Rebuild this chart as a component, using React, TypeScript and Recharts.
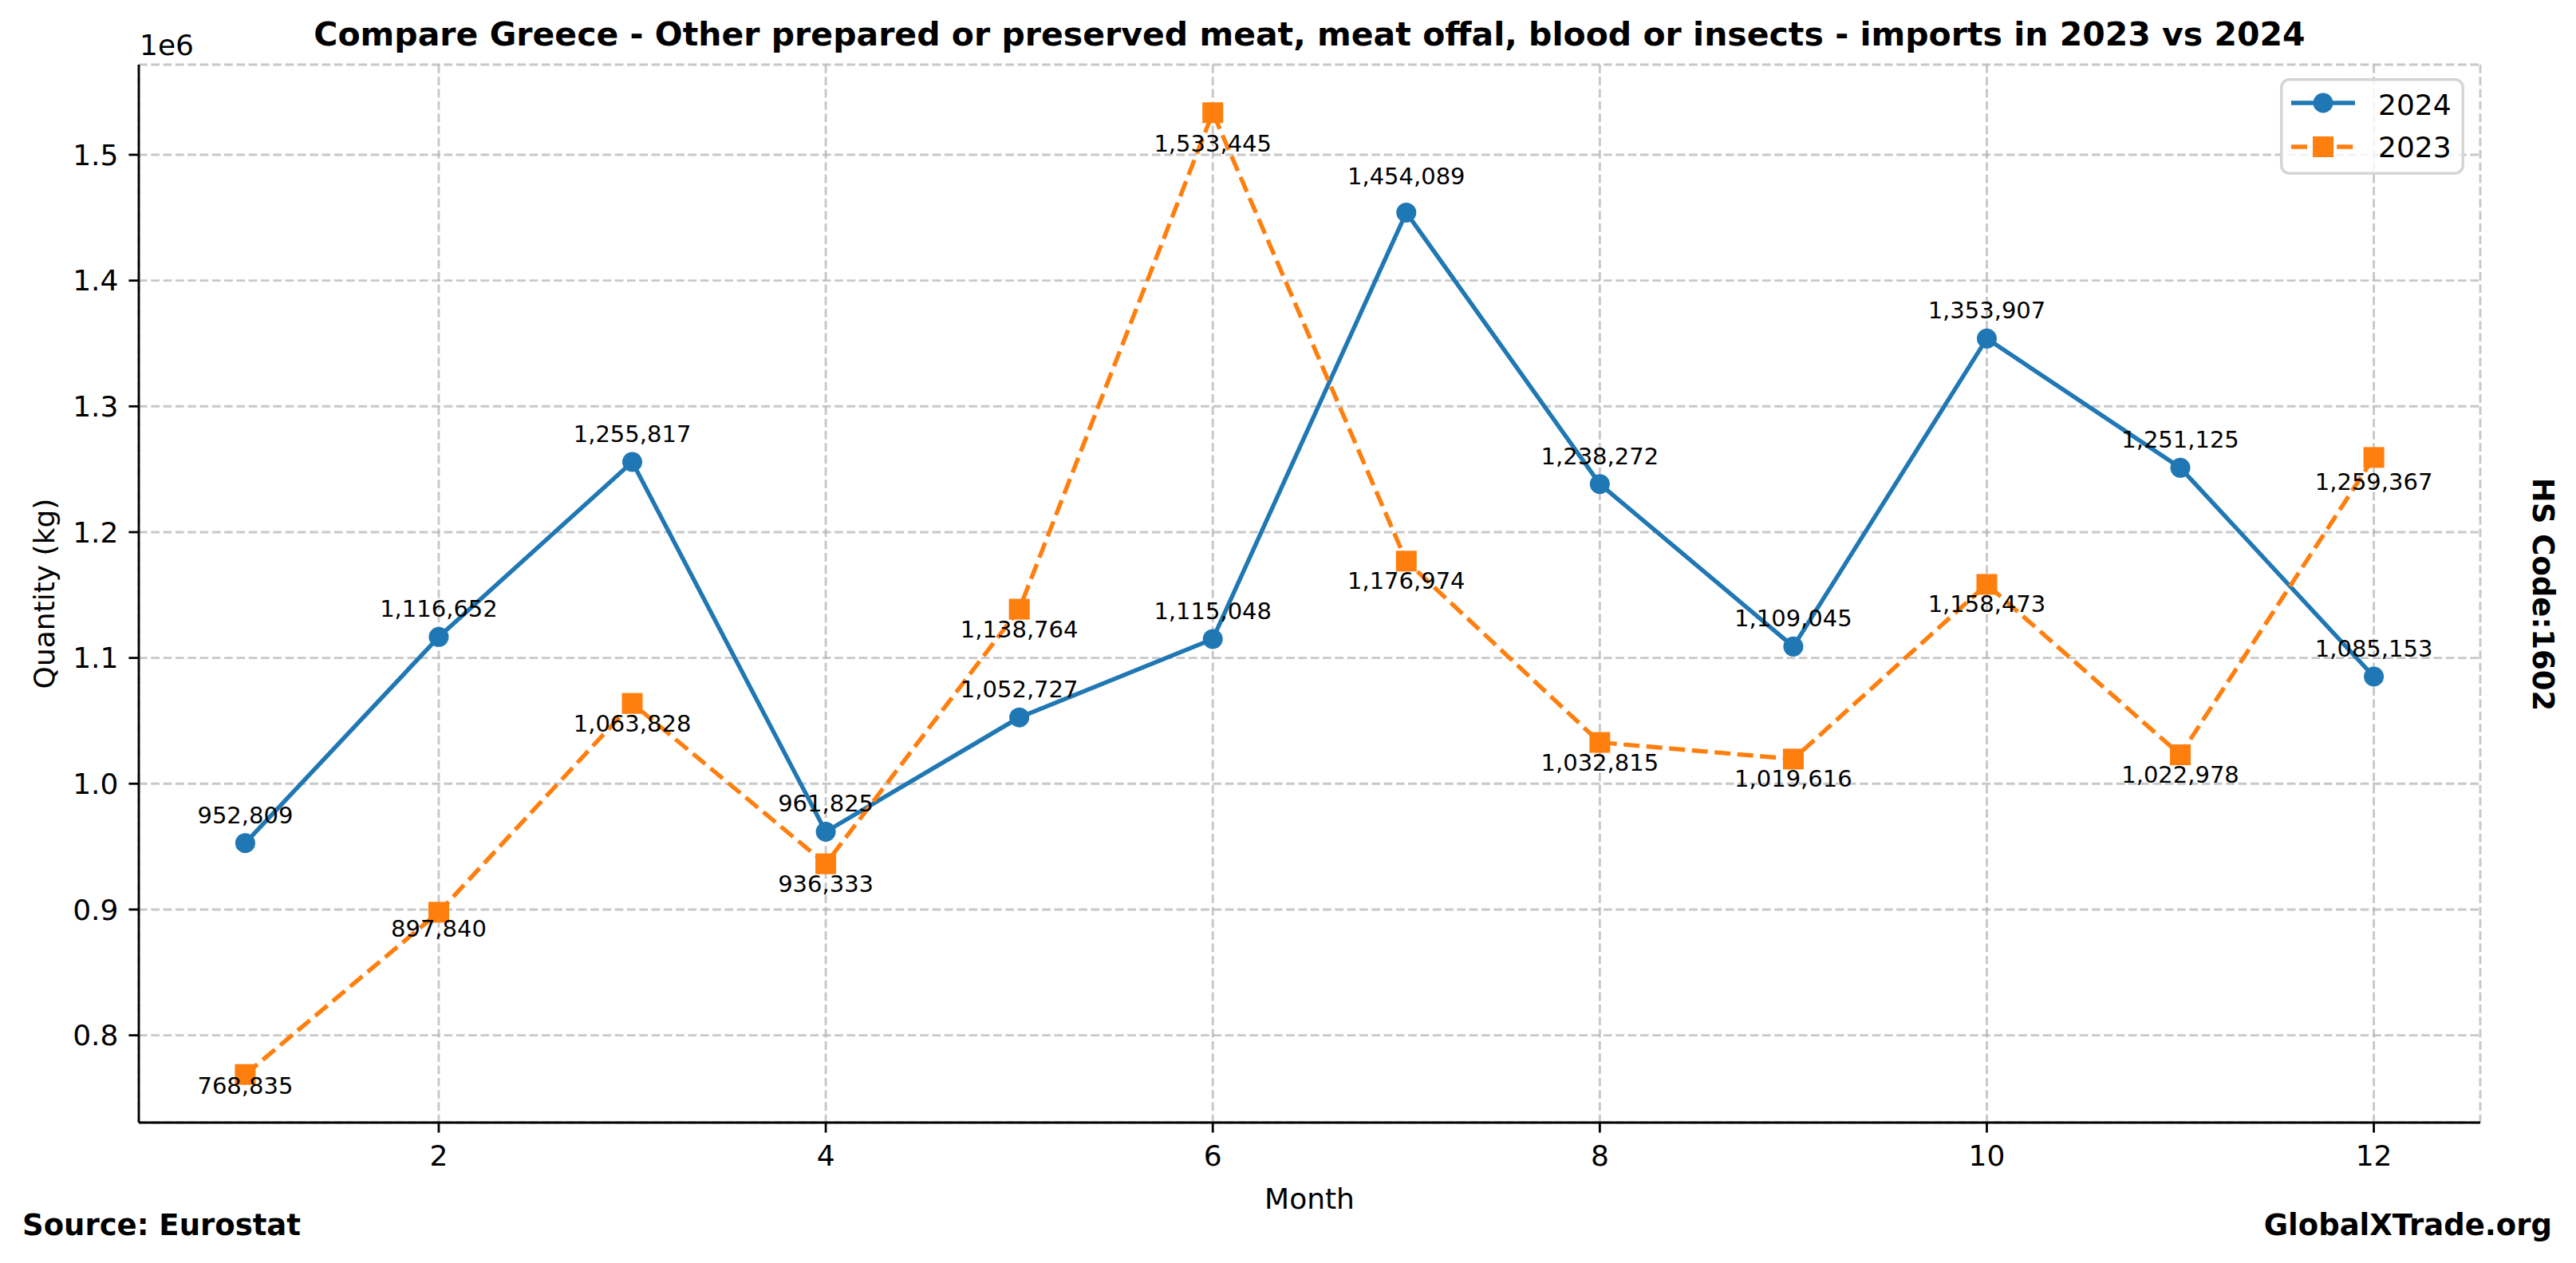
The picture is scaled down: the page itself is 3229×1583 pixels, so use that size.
import { CartesianGrid, LabelList, Legend, Line, LineChart, XAxis, YAxis } from 'recharts'

const MONTHS = [1, 2, 3, 4, 5, 6, 7, 8, 9, 10, 11, 12]
const QTY_2024 = [952809, 1116652, 1255817, 961825, 1052727, 1115048, 1454089, 1238272, 1109045, 1353907, 1251125, 1085153]
const QTY_2023 = [768835, 897840, 1063828, 936333, 1138764, 1533445, 1176974, 1032815, 1019616, 1158473, 1022978, 1259367]
const X_TICKS = [2, 4, 6, 8, 10, 12]
const Y_TICKS = [800000, 900000, 1000000, 1100000, 1200000, 1300000, 1400000, 1500000]

const W = 3229
const H = 1583
const FONT = '"DejaVu Sans", "Liberation Sans", sans-serif'
const BLUE = '#1f77b4'
const ORANGE = '#ff7f0e'
const DASH = '20 8.6'

// a few labels in the original were shifted to avoid overlaps (px, by month index)
const NUDGE_2024: Record<number, number> = { 6: -10 }
const NUDGE_2023: Record<number, number> = { 0: -11, 1: -4, 5: 14, 11: 6 }

const data = MONTHS.map((m, i) => ({ month: m, y2024: QTY_2024[i], y2023: QTY_2023[i] }))

// matplotlib-style 5% margins
const all = [...QTY_2024, ...QTY_2023]
const yMin = Math.min(...all)
const yMax = Math.max(...all)
const yPad = (yMax - yMin) * 0.05
const Y_DOMAIN = [yMin - yPad, yMax + yPad]
const xPad = (MONTHS[MONTHS.length - 1] - MONTHS[0]) * 0.05
const X_DOMAIN = [MONTHS[0] - xPad, MONTHS[MONTHS.length - 1] + xPad]

const fmt = (v: number) => Number(v).toLocaleString('en-US')

const labelAbove = (p: any) => (
  <text x={p.x} y={p.y - 25 + (NUDGE_2024[p.index] || 0)} textAnchor="middle" fontSize={29} fill="#000" fontFamily={FONT}>
    {fmt(p.value)}
  </text>
)

const labelBelow = (p: any) => (
  <text x={p.x} y={p.y + 35 + (NUDGE_2023[p.index] || 0)} textAnchor="middle" fontSize={29} fill="#000" fontFamily={FONT}>
    {fmt(p.value)}
  </text>
)

const SquareDot = (p: any) => {
  if (p.cx == null || p.cy == null) return <g key={`sq-${p.index}`} />
  return <rect key={`sq-${p.index}`} x={p.cx - 13} y={p.cy - 13} width={26} height={26} fill={ORANGE} />
}

function LegendBox() {
  return (
    <svg width={231} height={121} style={{ display: 'block' }}>
      <rect x={1.75} y={1.75} width={227.5} height={117.5} rx={10} fill="#fff" fillOpacity={0.8} stroke="#d5d5d5" strokeWidth={3.5} />
      <line x1={14} x2={94} y1={31} y2={31} stroke={BLUE} strokeWidth={5.4} />
      <circle cx={54} cy={31} r={12.5} fill={BLUE} />
      <text x={123} y={46} fontSize={36} fontFamily={FONT} fill="#000">2024</text>
      <line x1={14} x2={94} y1={86} y2={86} stroke={ORANGE} strokeWidth={5.4} strokeDasharray={DASH} />
      <rect x={41} y={73} width={26} height={26} fill={ORANGE} />
      <text x={123} y={99} fontSize={36} fontFamily={FONT} fill="#000">2023</text>
    </svg>
  )
}

const tickStyle = { fontSize: 36, fill: '#000', fontFamily: FONT }
const spine = { stroke: '#000', strokeWidth: 2.8 }

export default function App() {
  return (
    <div style={{ position: 'absolute', left: 0, top: 0, width: W, height: H, background: '#fff', fontFamily: FONT }}>
      <LineChart width={W} height={H} data={data} margin={{ top: 81, right: 120, left: 0, bottom: 0 }}>
        <CartesianGrid stroke="#b0b0b0" strokeOpacity={0.7} strokeWidth={2.9} strokeDasharray="10.7 4.6" />
        <XAxis
          dataKey="month"
          type="number"
          domain={X_DOMAIN}
          ticks={X_TICKS}
          allowDataOverflow
          height={176}
          tick={tickStyle}
          tickSize={12.6}
          tickMargin={16}
          tickLine={spine}
          axisLine={spine}
        />
        <XAxis xAxisId="top" orientation="top" type="number" domain={X_DOMAIN} height={0} tick={false} tickLine={false} axisLine={spine} />
        <YAxis
          type="number"
          domain={Y_DOMAIN}
          ticks={Y_TICKS}
          allowDataOverflow
          width={174}
          tick={tickStyle}
          tickSize={12.6}
          tickMargin={13}
          tickLine={spine}
          axisLine={spine}
          tickFormatter={(v: number) => (v / 1e6).toFixed(1)}
        />
        <YAxis yAxisId="right" orientation="right" type="number" domain={Y_DOMAIN} width={0} tick={false} tickLine={false} axisLine={spine} />
        <Legend
          layout="horizontal"
          verticalAlign="middle"
          align="center"
          wrapperStyle={{ left: 2858, top: 98, width: 231, height: 121 }}
          content={() => <LegendBox />}
        />
        <Line
          dataKey="y2024"
          name="2024"
          stroke={BLUE}
          strokeWidth={5.4}
          strokeLinejoin="round"
          dot={{ r: 12.5, fill: BLUE, stroke: BLUE, strokeWidth: 0 }}
          activeDot={false}
          isAnimationActive={false}
        >
          <LabelList dataKey="y2024" content={labelAbove} />
        </Line>
        <Line
          dataKey="y2023"
          name="2023"
          stroke={ORANGE}
          strokeWidth={5.4}
          strokeDasharray={DASH}
          dot={SquareDot}
          activeDot={false}
          isAnimationActive={false}
        >
          <LabelList dataKey="y2023" content={labelBelow} />
        </Line>
      </LineChart>
      <svg width={W} height={H} style={{ position: 'absolute', left: 0, top: 0, pointerEvents: 'none' }} fontFamily={FONT}>
        <text x={1641.5} y={57} textAnchor="middle" fontSize={41} fontWeight="bold" fill="#000">
          Compare Greece - Other prepared or preserved meat, meat offal, blood or insects - imports in 2023 vs 2024
        </text>
        <text x={175} y={69} fontSize={36} fill="#000">1e6</text>
        <text x={55} y={744} transform="rotate(-90 55 744)" textAnchor="middle" dominantBaseline="central" fontSize={36} fill="#000">
          Quantity (kg)
        </text>
        <text x={1641.5} y={1515} textAnchor="middle" fontSize={36} fill="#000">Month</text>
        <text x={28} y={1548} fontSize={37} fontWeight="bold" fill="#000">Source: Eurostat</text>
        <text x={3199} y={1548} textAnchor="end" fontSize={37} fontWeight="bold" fill="#000">GlobalXTrade.org</text>
        <text x={3187} y={745} transform="rotate(90 3187 745)" textAnchor="middle" dominantBaseline="central" fontSize={37} fontWeight="bold" fill="#000">
          HS Code:1602
        </text>
      </svg>
    </div>
  )
}
